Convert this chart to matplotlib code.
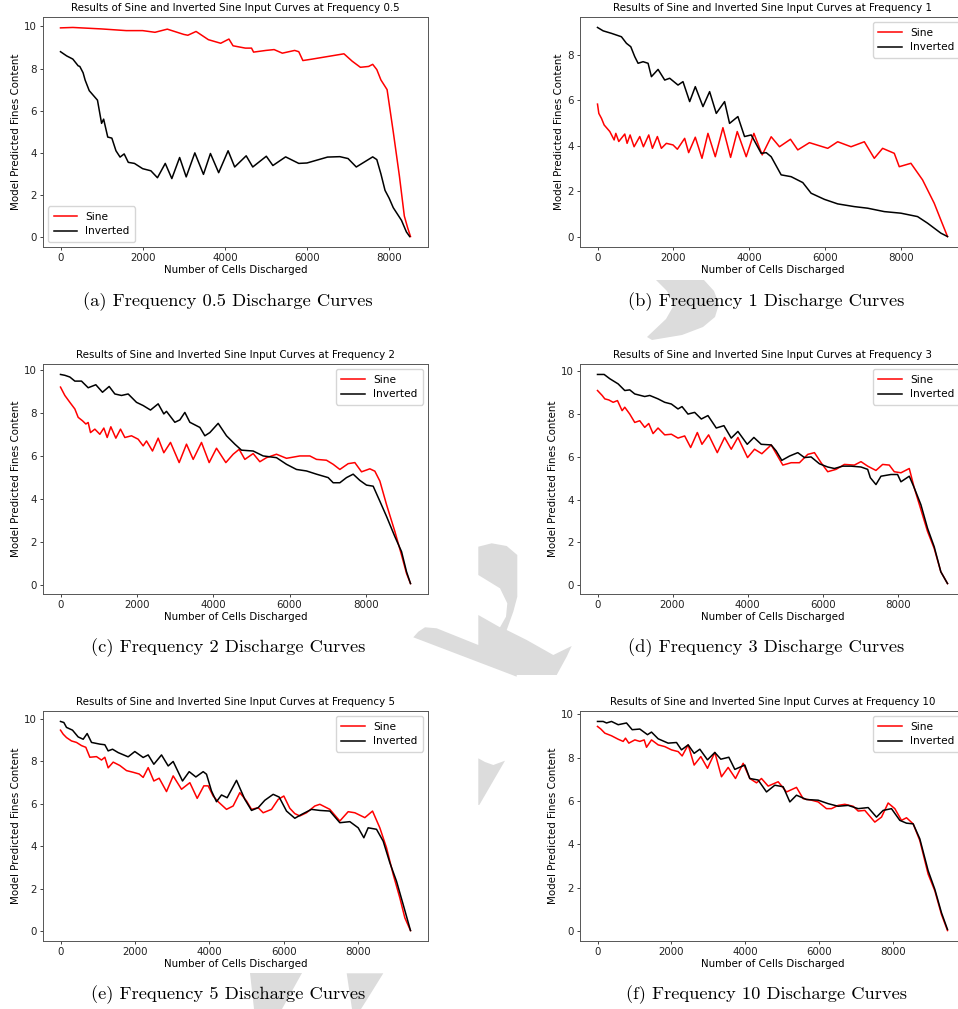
"""
Sine vs inverted sine discharge curves, six frequencies (2x3 grid of subfigures).
"""

import matplotlib
matplotlib.use("Agg")
import matplotlib.pyplot as plt
from matplotlib.patches import Polygon

# ==========================================
# DATA
# ==========================================
FREQS    = ["0.5", "1", "2", "3", "5", "10"]
LETTERS  = ["a", "b", "c", "d", "e", "f"]
LEG_LOC  = ["lower left", "upper right", "upper right",
            "upper right", "upper right", "upper right"]

# --- frequency 0.5 ---
sine_x_05 = [0, 300, 1000, 1600, 2000, 2300, 2600, 3000, 3100, 3300, 3600, 3900,
             4100, 4200, 4500, 4650, 4700, 5000, 5200, 5400, 5700, 5800, 5900,
             6100, 6500, 6900, 7100, 7300, 7500, 7600, 7700, 7800, 7950, 8100,
             8250, 8370, 8450, 8520]
sine_y_05 = [9.93, 9.95, 9.88, 9.8, 9.8, 9.72, 9.87, 9.62, 9.58, 9.76, 9.37, 9.2,
             9.4, 9.08, 8.97, 8.97, 8.78, 8.86, 8.9, 8.73, 8.86, 8.8, 8.38,
             8.44, 8.57, 8.7, 8.35, 8.06, 8.1, 8.2, 7.95, 7.46, 7.0, 5.0,
             2.9, 1.0, 0.45, 0.03]
inv_x_05 = [0, 150, 300, 430, 470, 550, 600, 700, 900, 1000, 1050, 1150, 1250,
            1350, 1450, 1550, 1650, 1800, 2000, 2200, 2360, 2550, 2710, 2900,
            3060, 3270, 3480, 3650, 3850, 4080, 4240, 4520, 4680, 5010, 5170,
            5480, 5800, 6000, 6500, 6800, 7000, 7200, 7400, 7600, 7700, 7800,
            7900, 8000, 8100, 8300, 8420, 8500]
inv_y_05 = [8.8, 8.6, 8.45, 8.13, 8.1, 7.8, 7.45, 6.95, 6.5, 5.4, 5.6, 4.75, 4.7,
            4.1, 3.8, 3.95, 3.55, 3.5, 3.25, 3.15, 2.82, 3.5, 2.78, 3.78,
            2.86, 4.0, 2.98, 3.97, 3.06, 4.1, 3.33, 3.86, 3.33, 3.84, 3.4,
            3.81, 3.5, 3.52, 3.8, 3.82, 3.73, 3.33, 3.57, 3.81, 3.68, 3.0,
            2.22, 1.85, 1.4, 0.8, 0.25, 0.03]

# --- frequency 1 ---
sine_x_1 = [0, 35, 105, 175, 324, 438, 482, 560, 718, 779, 858, 963, 1112, 1208,
            1349, 1445, 1576, 1681, 1813, 1988, 2102, 2294, 2399, 2574, 2750,
            2907, 3100, 3301, 3503, 3678, 3914, 4116, 4335, 4571, 4790, 5079,
            5271, 5578, 6060, 6322, 6673, 7023, 7285, 7504, 7811, 7942, 8249,
            8555, 8862, 9037, 9212]
sine_y_1 = [5.84, 5.43, 5.21, 4.92, 4.63, 4.26, 4.55, 4.19, 4.52, 4.11, 4.48, 3.96,
            4.41, 3.96, 4.48, 3.89, 4.41, 3.89, 4.11, 4.04, 3.85, 4.33, 3.7,
            4.38, 3.45, 4.55, 3.52, 4.8, 3.49, 4.63, 3.52, 4.55, 3.6, 4.4, 3.96,
            4.29, 3.82, 4.14, 3.89, 4.18, 3.96, 4.18, 3.45, 3.89, 3.67, 3.08,
            3.23, 2.5, 1.47, 0.73, 0.0]
inv_x_1 = [0, 149, 368, 630, 762, 876, 981, 1068, 1200, 1331, 1419, 1594, 1769,
           1900, 2119, 2250, 2426, 2574, 2776, 2951, 3126, 3345, 3476, 3695,
           3870, 4046, 4308, 4440, 4571, 4834, 5096, 5403, 5622, 5972, 6322,
           6760, 7110, 7548, 7986, 8424, 8687, 9037, 9212]
inv_y_1 = [9.22, 9.07, 8.96, 8.81, 8.52, 8.37, 7.93, 7.64, 7.71, 7.64, 7.05, 7.37,
           6.9, 6.98, 6.68, 6.83, 5.95, 6.61, 5.73, 6.39, 5.43, 5.95, 4.99, 5.29,
           4.41, 4.48, 3.67, 3.7, 3.52, 2.72, 2.64, 2.38, 1.91, 1.64, 1.44,
           1.32, 1.25, 1.1, 1.03, 0.88, 0.59, 0.15, 0.0]

# --- frequency 2 ---
sine_x_2 = [0, 114, 245, 376, 463, 576, 664, 725, 786, 900, 1031, 1135, 1223,
            1319, 1450, 1572, 1686, 1860, 2035, 2166, 2253, 2410, 2559, 2707,
            2882, 3109, 3301, 3476, 3694, 3895, 4087, 4332, 4524, 4681, 4830,
            5048, 5223, 5397, 5659, 5921, 6271, 6533, 6707, 6969, 7144, 7319,
            7537, 7712, 7887, 8105, 8236, 8367, 8542, 8760, 8935, 9066, 9170]
sine_y_2 = [9.22, 8.83, 8.51, 8.2, 7.81, 7.65, 7.5, 7.57, 7.1, 7.26, 7.02, 7.31,
            6.87, 7.37, 6.84, 7.26, 6.87, 6.95, 6.79, 6.48, 6.71, 6.24, 6.84,
            6.16, 6.64, 5.7, 6.56, 5.85, 6.64, 5.7, 6.37, 5.7, 6.09, 6.32, 5.85,
            6.12, 5.74, 5.93, 6.09, 5.9, 6.01, 6.01, 5.85, 5.81, 5.62, 5.38,
            5.65, 5.7, 5.27, 5.41, 5.3, 4.84, 3.74, 2.49, 1.39, 0.53, 0.06]
inv_x_2 = [0, 114, 245, 376, 550, 725, 926, 1100, 1275, 1424, 1598, 1773, 1991,
           2166, 2358, 2559, 2707, 2777, 2996, 3127, 3258, 3389, 3651, 3782,
           3913, 4131, 4349, 4568, 4742, 5048, 5310, 5659, 5921, 6183, 6445,
           6707, 7013, 7144, 7319, 7493, 7668, 7843, 8017, 8192, 8367, 8542,
           8760, 8935, 9066, 9170]
inv_y_2 = [9.81, 9.77, 9.69, 9.5, 9.5, 9.19, 9.33, 8.98, 9.25, 8.9, 8.83, 8.9,
           8.51, 8.36, 8.15, 8.44, 7.97, 8.09, 7.58, 7.69, 8.04, 7.58, 7.34,
           6.95, 7.1, 7.53, 6.95, 6.56, 6.28, 6.24, 6.01, 5.93, 5.62, 5.38,
           5.31, 5.16, 5.0, 4.76, 4.76, 5.0, 5.16, 4.87, 4.65, 4.6, 3.9, 3.19,
           2.25, 1.55, 0.61, 0.06]

# --- frequency 3 ---
sine_x_3 = [0, 124, 195, 302, 417, 532, 656, 727, 860, 993, 1126, 1259, 1366,
            1481, 1614, 1792, 1969, 2146, 2324, 2483, 2661, 2785, 2962, 3193,
            3388, 3565, 3743, 4000, 4186, 4381, 4630, 4940, 5162, 5384, 5605,
            5783, 5960, 6137, 6359, 6581, 6847, 7024, 7202, 7423, 7601, 7778,
            7911, 8089, 8311, 8443, 8621, 8798, 8975, 9152, 9330]
sine_y_3 = [9.09, 8.86, 8.7, 8.65, 8.54, 8.62, 8.15, 8.31, 7.99, 7.6, 7.68, 7.37,
            7.55, 7.08, 7.34, 7.02, 7.05, 6.87, 6.97, 6.43, 7.13, 6.58, 7.02,
            6.19, 6.9, 6.35, 6.9, 5.96, 6.35, 6.14, 6.55, 5.61, 5.72, 5.72, 6.11,
            6.19, 5.72, 5.3, 5.41, 5.64, 5.61, 5.77, 5.56, 5.36, 5.64, 5.61,
            5.3, 5.25, 5.45, 4.55, 3.53, 2.51, 1.72, 0.63, 0.08]
inv_x_3 = [0, 177, 328, 550, 727, 860, 993, 1259, 1392, 1614, 1792, 1969, 2146,
           2253, 2412, 2590, 2767, 2944, 3166, 3370, 3565, 3743, 3991, 4169,
           4364, 4630, 4763, 4913, 5118, 5339, 5517, 5694, 5916, 6137, 6315,
           6537, 6758, 7024, 7202, 7273, 7423, 7556, 7822, 7999, 8089, 8311,
           8443, 8621, 8798, 8975, 9152, 9330]
inv_y_3 = [9.84, 9.84, 9.64, 9.4, 9.09, 9.12, 8.93, 8.81, 8.86, 8.7, 8.54, 8.46,
           8.23, 8.34, 7.99, 8.07, 7.76, 7.92, 7.34, 7.45, 6.87, 7.18, 6.58,
           6.9, 6.58, 6.55, 6.27, 5.83, 6.03, 6.19, 5.96, 5.99, 5.67, 5.52,
           5.45, 5.56, 5.56, 5.52, 5.41, 5.02, 4.7, 5.09, 5.17, 5.17, 4.83,
           5.09, 4.55, 3.76, 2.66, 1.8, 0.63, 0.08]

# --- frequency 5 ---
sine_x_5 = [0, 72, 161, 295, 430, 564, 680, 788, 967, 1101, 1191, 1280, 1415,
            1594, 1773, 1952, 2113, 2220, 2355, 2507, 2650, 2847, 3026, 3250,
            3474, 3671, 3850, 3966, 4100, 4235, 4458, 4637, 4816, 4995, 5130,
            5309, 5443, 5667, 5846, 5998, 6159, 6293, 6428, 6607, 6831, 6965,
            7234, 7502, 7726, 7905, 8174, 8380, 8576, 8755, 8935, 9114, 9248,
            9400]
sine_y_5 = [9.48, 9.29, 9.13, 8.97, 8.9, 8.75, 8.67, 8.2, 8.23, 8.07, 8.2, 7.7,
            7.97, 7.81, 7.57, 7.49, 7.41, 7.25, 7.71, 7.08, 7.21, 6.58, 7.32,
            6.69, 7.0, 6.26, 6.85, 6.85, 6.37, 6.1, 5.74, 5.9, 6.53, 6.14, 5.74,
            5.82, 5.58, 5.74, 6.21, 6.37, 5.79, 5.54, 5.43, 5.58, 5.9, 5.98,
            5.74, 5.19, 5.63, 5.58, 5.35, 5.66, 4.87, 3.93, 2.67, 1.56, 0.62,
            0.02]
inv_x_5 = [0, 90, 161, 322, 474, 609, 716, 833, 1056, 1191, 1280, 1397, 1549,
           1817, 1996, 2220, 2355, 2507, 2713, 2892, 3026, 3277, 3456, 3635,
           3832, 3921, 4055, 4190, 4324, 4476, 4727, 4951, 5130, 5309, 5488,
           5712, 5873, 6070, 6293, 6473, 6741, 6965, 7234, 7502, 7771, 7995,
           8147, 8263, 8487, 8666, 8845, 9024, 9203, 9400]
inv_y_5 = [9.89, 9.84, 9.61, 9.48, 9.16, 9.05, 9.32, 8.9, 8.82, 8.79, 8.5, 8.58,
           8.42, 8.22, 8.47, 8.19, 8.31, 7.87, 8.31, 7.79, 8.0, 7.08, 7.52,
           7.27, 7.52, 7.4, 6.61, 6.1, 6.42, 6.29, 7.11, 6.21, 5.69, 5.82,
           6.17, 6.45, 6.32, 5.66, 5.32, 5.5, 5.74, 5.69, 5.66, 5.11, 5.16,
           4.87, 4.4, 4.87, 4.8, 4.24, 3.22, 2.35, 1.25, 0.02]

# --- frequency 10 ---
sine_x_10 = [0, 90, 199, 379, 560, 695, 758, 848, 1011, 1146, 1264, 1327, 1462,
             1643, 1823, 2004, 2184, 2292, 2455, 2617, 2798, 2978, 3177, 3357,
             3538, 3736, 3944, 4124, 4305, 4440, 4621, 4892, 5117, 5388, 5569,
             5794, 5975, 6200, 6336, 6516, 6697, 6922, 7058, 7238, 7509, 7690,
             7870, 8051, 8231, 8367, 8547, 8727, 8953, 9134, 9314, 9477]
sine_y_10 = [9.44, 9.32, 9.13, 9.01, 8.85, 8.75, 8.9, 8.67, 8.82, 8.75, 8.82,
             8.48, 8.82, 8.59, 8.51, 8.36, 8.28, 8.08, 8.59, 7.66, 8.05, 7.51,
             8.24, 7.12, 7.55, 7.04, 7.74, 7.04, 6.84, 7.04, 6.69, 6.89, 6.42,
             6.63, 6.11, 6.04, 5.96, 5.65, 5.65, 5.8, 5.85, 5.76, 5.54, 5.57,
             5.03, 5.26, 5.91, 5.65, 5.11, 5.23, 4.95, 4.18, 2.63, 1.86, 0.77,
             0.03]
inv_x_10 = [0, 153, 244, 379, 560, 785, 939, 1146, 1354, 1462, 1643, 1913, 2139,
            2274, 2455, 2617, 2771, 2978, 3177, 3339, 3556, 3718, 3989, 4124,
            4350, 4576, 4801, 5027, 5208, 5388, 5659, 5975, 6245, 6516, 6787,
            7058, 7329, 7554, 7735, 7960, 8186, 8367, 8547, 8727, 8953, 9134,
            9314, 9477]
inv_y_10 = [9.67, 9.67, 9.6, 9.67, 9.52, 9.6, 9.29, 9.32, 9.06, 9.18, 8.87,
            8.67, 8.7, 8.36, 8.59, 8.2, 8.39, 7.9, 8.24, 7.93, 8.02, 7.46, 7.66,
            7.04, 6.97, 6.42, 6.73, 6.66, 5.96, 6.27, 6.07, 6.04, 5.88, 5.76,
            5.8, 5.65, 5.7, 5.26, 5.57, 5.65, 5.11, 4.98, 4.95, 4.26, 2.79,
            1.93, 0.85, 0.08]

SINE_X = [sine_x_05, sine_x_1, sine_x_2, sine_x_3, sine_x_5, sine_x_10]
SINE_Y = [sine_y_05, sine_y_1, sine_y_2, sine_y_3, sine_y_5, sine_y_10]
INV_X  = [inv_x_05, inv_x_1, inv_x_2, inv_x_3, inv_x_5, inv_x_10]
INV_Y  = [inv_y_05, inv_y_1, inv_y_2, inv_y_3, inv_y_5, inv_y_10]

# ==========================================
# LAYOUT (pixels of a 958 x 1009 page)
# ==========================================
W, H = 958, 1009
COL_LEFT  = [43, 580]
ROW_TOP   = [17, 364, 711]
AX_W, AX_H = 385, 230
CAPTION_X = [228, 766]
CAPTION_Y = [302, 648, 995]
FS = 7.4   # text size inside the subfigures

# faint "draft" watermark fragments seen between the subfigures
WATERMARK = [
    [(656, 280), (704, 280), (714, 291), (719, 304), (715, 317), (703, 327),
     (682, 335), (652, 340), (647, 337), (666, 319), (674, 305), (667, 291)],
    [(478.3, 546.7), (491.7, 543.3), (506.7, 546), (517.3, 555), (517.3, 596.7),
     (513.3, 611.7), (506.7, 630), (526.7, 640), (553.3, 655), (571.7, 646),
     (566.7, 656.7), (556.7, 675), (516.7, 675), (516.7, 676.7), (413.3, 637.3),
     (418.3, 631.7), (425, 627.3), (436.7, 628.3), (478.3, 645), (478.3, 615),
     (500, 627.3), (506, 616.7), (507.3, 603.3), (500, 588.3), (478.3, 575)],
    [(478.3, 758.3), (485, 762), (493.3, 765), (505, 760.7), (479.3, 805),
     (478.3, 805)],
    [(250, 973), (302, 973), (282, 1009), (254, 1009)],
    [(346.7, 973.3), (383.3, 973.3), (366.7, 1000), (361, 1009), (352, 1009)],
]

def px_rect(left, top):
    return [left / W, 1 - (top + AX_H) / H, AX_W / W, AX_H / H]

# ==========================================
# FIGURE
# ==========================================
fig = plt.figure(figsize=(W / 100, H / 100), dpi=100)
fig.patch.set_facecolor("white")

for poly in WATERMARK:
    pts = [(x / W, 1 - y / H) for x, y in poly]
    fig.patches.append(Polygon(pts, closed=True, transform=fig.transFigure,
                               facecolor="#dcdcdc", edgecolor="none", zorder=0))

for i in range(6):
    row, col = divmod(i, 2)
    ax = fig.add_axes(px_rect(COL_LEFT[col], ROW_TOP[row]))
    ax.plot(SINE_X[i], SINE_Y[i], color="red", lw=1.1, label="Sine")
    ax.plot(INV_X[i], INV_Y[i], color="black", lw=1.1, label="Inverted")

    ax.set_title(f"Results of Sine and Inverted Sine Input Curves at Frequency {FREQS[i]}",
                 fontsize=FS, pad=4)
    ax.set_xlabel("Number of Cells Discharged", fontsize=FS, labelpad=1)
    ax.set_ylabel("Model Predicted Fines Content", fontsize=FS, labelpad=2)
    ax.set_xticks([0, 2000, 4000, 6000, 8000])
    ax.tick_params(labelsize=FS, length=2.5, width=0.6, pad=2,
                   colors="#222222")
    for s in ax.spines.values():
        s.set_linewidth(0.7)
        s.set_color("#555555")
    ax.legend(loc=LEG_LOC[i], fontsize=7.6, handlelength=2.2, borderpad=0.5,
              labelspacing=0.45)

    fig.text(CAPTION_X[col] / W, 1 - CAPTION_Y[row] / H,
             f"({LETTERS[i]}) Frequency {FREQS[i]} Discharge Curves",
             ha="center", va="center", fontsize=13.3, family="cmr10")

fig.savefig("out.png", dpi=100, facecolor="white")
